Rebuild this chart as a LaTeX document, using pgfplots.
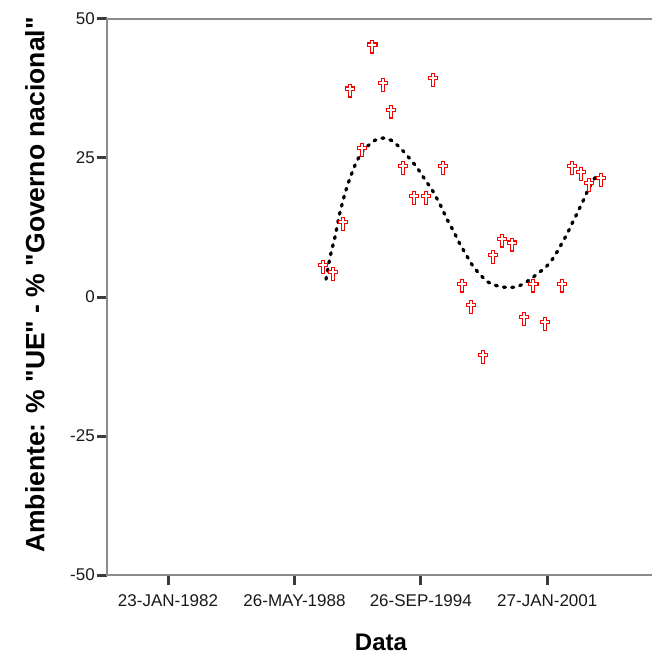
\documentclass[border=0pt]{standalone}
\usepackage{pgfplots}
\pgfplotsset{compat=1.18}
\usepackage{fontspec}
\setmainfont[Ligatures=TeXOff]{Liberation Sans}
\definecolor{axgray}{RGB}{140,140,140}
\definecolor{tickgray}{RGB}{60,60,60}
\pgfdeclareplotmark{latincross}{%
  \pgfpathmoveto{\pgfqpoint{-1.7pt}{-6.2pt}}%
  \pgfpathlineto{\pgfqpoint{1.7pt}{-6.2pt}}%
  \pgfpathlineto{\pgfqpoint{1.7pt}{0.6pt}}%
  \pgfpathlineto{\pgfqpoint{4.8pt}{0.6pt}}%
  \pgfpathlineto{\pgfqpoint{4.8pt}{3.7pt}}%
  \pgfpathlineto{\pgfqpoint{1.7pt}{3.7pt}}%
  \pgfpathlineto{\pgfqpoint{1.7pt}{6.4pt}}%
  \pgfpathlineto{\pgfqpoint{-1.7pt}{6.4pt}}%
  \pgfpathlineto{\pgfqpoint{-1.7pt}{3.7pt}}%
  \pgfpathlineto{\pgfqpoint{-4.8pt}{3.7pt}}%
  \pgfpathlineto{\pgfqpoint{-4.8pt}{0.6pt}}%
  \pgfpathlineto{\pgfqpoint{-1.7pt}{0.6pt}}%
  \pgfpathclose
  \pgfusepathqfillstroke}
\begin{document}
\begin{tikzpicture}
\begin{axis}[
  scale only axis,
  width=548pt, height=556pt,
  xmin=1979.0, xmax=2006.47,
  ymin=-50, ymax=50,
  axis lines=box,
  axis line style={draw=axgray, line width=1.4pt},
  xtick pos=bottom, ytick pos=left,
  tick align=outside,
  major tick length=10pt,
  xtick style={draw=tickgray, line width=3pt},
  ytick style={draw=tickgray, line width=3pt},
  xtick={1982.06,1988.40,1994.73,2001.07},
  xticklabels={23-JAN-1982,26-MAY-1988,26-SEP-1994,27-JAN-2001},
  ytick={-50,-25,0,25,50},
  /pgf/number format/assume math mode=true,
  tick label style={font=\fontsize{17}{20}\selectfont, text=black!90},
  yticklabel style={inner xsep=2pt},
  xticklabel style={inner ysep=1pt, yshift=-8pt},
  every axis y label/.style={at={(rel axis cs:0,0.5)}, xshift=-72pt, yshift=12pt, rotate=90, anchor=center, font=\bfseries\fontsize{26.5}{30}\selectfont},
  every axis x label/.style={at={(rel axis cs:0.5,0)}, yshift=-75pt, anchor=base, font=\bfseries\fontsize{24}{28}\selectfont},
  xlabel={Data},
  ylabel={Ambiente: \% "UE" - \% "Governo nacional"},
  clip=false,
]
\coordinate (bl) at (rel axis cs:0,0);
\addplot[black, line width=3.3pt, line cap=round, dash pattern=on 2.0pt off 6.3pt] coordinates {
(1989.98,3.2) (1990.18,7.2) (1990.43,10.8) (1990.68,15.3) (1990.93,18.7)
(1991.18,21.4) (1991.43,23.7) (1991.73,25.9) (1992.08,27.2) (1992.44,28.2)
(1992.84,28.6) (1993.24,28.2) (1993.59,27.2) (1993.94,25.9) (1994.29,24.4)
(1994.54,23.3) (1994.89,21.4) (1995.34,19.0) (1995.69,16.7) (1996.04,14.0)
(1996.35,12.0) (1996.65,9.8) (1997.10,7.0) (1997.35,5.5) (1997.70,4.0)
(1998.05,2.8) (1998.35,2.2) (1998.80,1.8) (1999.20,1.7) (1999.55,1.8)
(1999.95,2.5) (2000.30,3.4) (2000.66,4.4) (2001.01,5.4) (2001.31,6.7)
(2001.56,8.1) (2001.81,9.7) (2002.06,11.3) (2002.31,13.2) (2002.56,15.0)
(2002.76,16.5) (2002.96,18.0) (2003.11,19.3) (2003.31,20.6) (2003.56,22.0)
};
\addplot[only marks, mark=latincross, mark options={draw=red, fill=white, line width=1.2pt}] coordinates {
(1989.83,5.4) (1990.33,4.1) (1990.83,13.1) (1991.18,37.1) (1991.78,26.4)
(1992.29,45.0) (1992.84,38.1) (1993.24,33.3) (1993.84,23.2) (1994.39,17.8)
(1994.99,17.8) (1995.34,39.0) (1995.84,23.2) (1996.80,2.0) (1997.25,-1.8)
(1997.85,-10.8) (1998.35,7.2) (1998.80,10.1) (1999.30,9.4) (1999.90,-4.0)
(2000.36,2.0) (2000.96,-4.9) (2001.81,2.0) (2002.31,23.2) (2002.76,22.1)
(2003.16,20.1) (2003.76,21.0)
};
\end{axis}
\pgfresetboundingbox
\path[use as bounding box] ([xshift=-107pt,yshift=-82pt]bl) rectangle ++(652pt,657pt);
\end{tikzpicture}
\end{document}
